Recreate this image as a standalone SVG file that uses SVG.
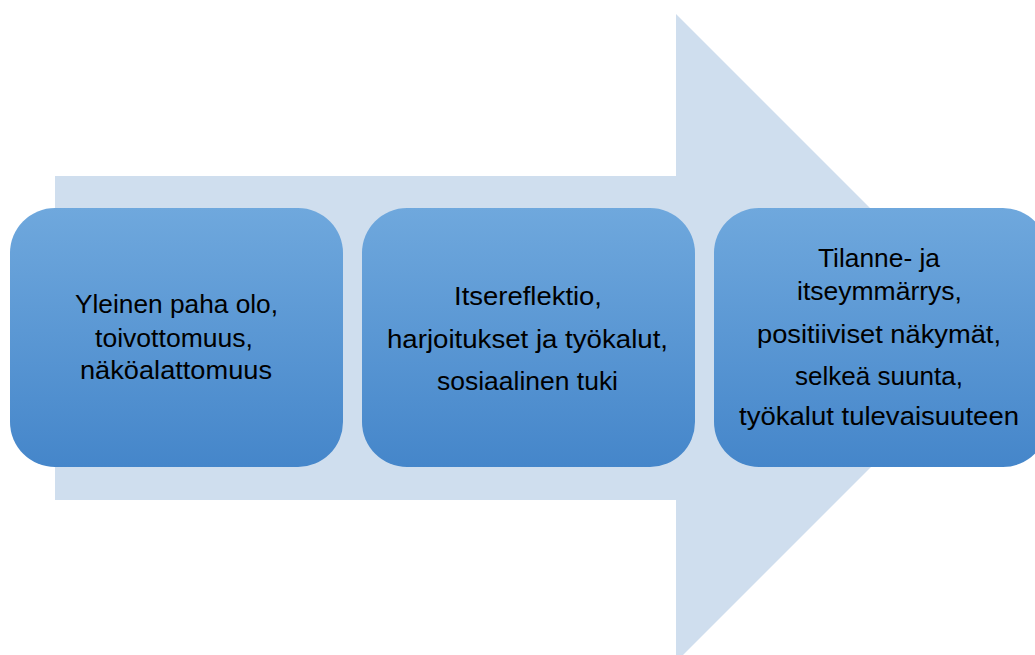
<svg xmlns="http://www.w3.org/2000/svg" width="1035" height="655" viewBox="0 0 1035 655">
  <defs>
    <linearGradient id="boxGrad" x1="0" y1="0" x2="0" y2="1">
      <stop offset="0" stop-color="#6fa8dd"/>
      <stop offset="1" stop-color="#4586ca"/>
    </linearGradient>
    <style>
      .box { fill: url(#boxGrad); }
      .lbl { font-family: "Liberation Sans", Arial, sans-serif; font-size: 25px; fill: #000; text-anchor: middle; }
    </style>
  </defs>
  <rect width="1035" height="655" fill="#ffffff"/>
  <g id="connectors">
    <polygon id="big-arrow" points="55,176 676,176 676,14 1000,338 676,662 676,500 55,500" fill="#cfdeee"/>
  </g>
  <g id="node1">
    <rect class="box" x="10" y="208" width="333" height="259" rx="45" ry="45"/>
    <text class="lbl" x="176.5" y="313" textLength="203" lengthAdjust="spacingAndGlyphs">Yleinen paha olo,</text>
    <text class="lbl" x="174" y="347" textLength="158" lengthAdjust="spacingAndGlyphs">toivottomuus,</text>
    <text class="lbl" x="176" y="379" textLength="192" lengthAdjust="spacingAndGlyphs">näköalattomuus</text>
  </g>
  <g id="node2">
    <rect class="box" x="362" y="208" width="333" height="259" rx="45" ry="45"/>
    <text class="lbl" x="528" y="305" textLength="148" lengthAdjust="spacingAndGlyphs">Itsereflektio,</text>
    <text class="lbl" x="527.5" y="348" textLength="281" lengthAdjust="spacingAndGlyphs">harjoitukset ja työkalut,</text>
    <text class="lbl" x="527.5" y="390" textLength="181" lengthAdjust="spacingAndGlyphs">sosiaalinen tuki</text>
  </g>
  <g id="node3">
    <rect class="box" x="714" y="208" width="334" height="259" rx="45" ry="45"/>
    <text class="lbl" x="879" y="267" textLength="122" lengthAdjust="spacingAndGlyphs">Tilanne- ja</text>
    <text class="lbl" x="879.5" y="300" textLength="165" lengthAdjust="spacingAndGlyphs">itseymmärrys,</text>
    <text class="lbl" x="879" y="343" textLength="244" lengthAdjust="spacingAndGlyphs">positiiviset näkymät,</text>
    <text class="lbl" x="879" y="385" textLength="168" lengthAdjust="spacingAndGlyphs">selkeä suunta,</text>
    <text class="lbl" x="879" y="425" textLength="280" lengthAdjust="spacingAndGlyphs">työkalut tulevaisuuteen</text>
  </g>
</svg>
